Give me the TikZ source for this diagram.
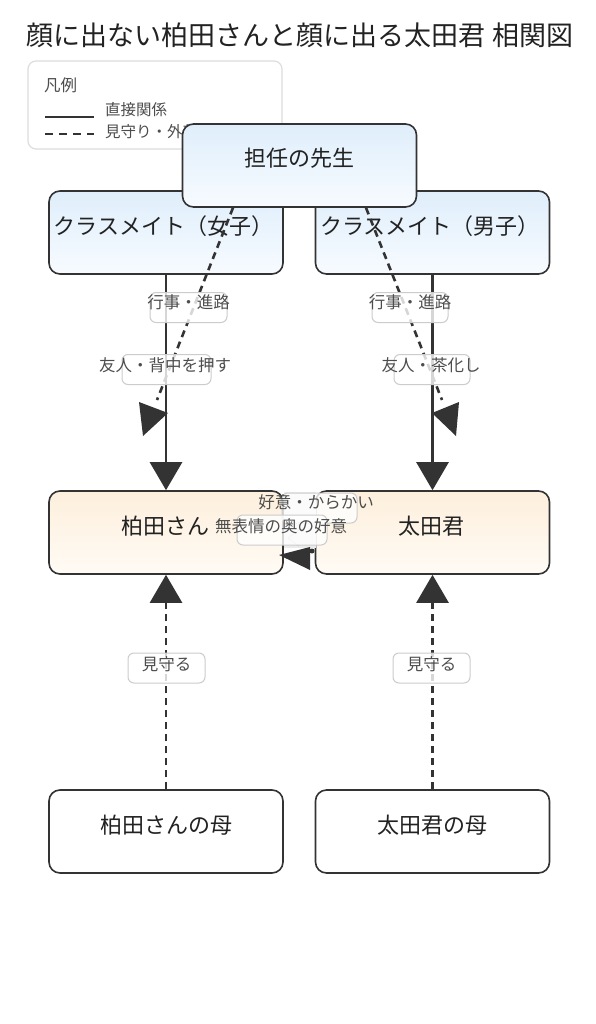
\documentclass[tikz,border=0pt]{standalone}
\usepackage{fontspec}
\setmainfont{Noto Sans CJK JP}
\usetikzlibrary{arrows.meta,calc}
\definecolor{boxc}{HTML}{333333}
\definecolor{linec}{HTML}{333333}
\definecolor{bluetop}{HTML}{DFEEFB}
\definecolor{bluebot}{HTML}{F7FBFF}
\definecolor{orgtop}{HTML}{FDEFDC}
\definecolor{orgbot}{HTML}{FFFBF5}
\definecolor{lblc}{HTML}{CCCCCC}
\definecolor{lbltxt}{HTML}{4D4D4D}
\definecolor{textc}{HTML}{222222}
\definecolor{legc}{HTML}{DDDDDD}
\tikzset{
  box/.style={draw=boxc, line width=1.6pt, rounded corners=11pt, minimum width=234pt, minimum height=83pt, inner sep=0pt},
  bluebox/.style={box, top color=bluetop, bottom color=bluebot},
  orgbox/.style={box, top color=orgtop, bottom color=orgbot},
  whitebox/.style={box, fill=white},
  ntext/.style={font=\fontsize{22}{26}\selectfont, text=textc, inner sep=0pt},
  lblbox/.style={draw=lblc, line width=1pt, fill=white, fill opacity=0.8, rounded corners=6pt, minimum height=30pt, inner sep=0pt},
  lbltext/.style={font=\fontsize{16.5}{19}\selectfont, text=lbltxt, inner sep=0pt},
  solidline/.style={draw=linec, line width=2.6pt},
  dashline/.style={draw=linec, line width=2.6pt, dash pattern=on 7pt off 5pt},
  tipA/.style={-{Triangle[length=28pt,width=32pt]}},
  legtext/.style={font=\fontsize{15.5}{18}\selectfont, text=lbltxt, inner sep=0pt, anchor=west},
}
\begin{document}
\begin{tikzpicture}[x=1pt,y=-1pt]
\fill[white] (0,0) rectangle (596,1024);
\useasboundingbox (0,0) rectangle (596,1024);

% title
\node[font=\fontsize{27}{31}\selectfont, text=textc, inner sep=0pt] (title) at (300,35) {顔に出ない柏田さんと顔に出る太田君 相関図};

% legend
\node[draw=legc, line width=1.2pt, fill=white, rounded corners=8pt, minimum width=254pt, minimum height=88pt, inner sep=0pt] (legend) at (155,105) {};
\node[font=\fontsize{16.5}{19}\selectfont, text=lbltxt, inner sep=0pt, anchor=west] (legtitle) at (44,85) {凡例};
\coordinate (ls1) at (45,117); \coordinate (le1) at (94,117);
\draw[linec, line width=2.7pt] (ls1) -- (le1);
\node[legtext] (leg1) at (105,110) {直接関係};
\coordinate (ls2) at (45,134); \coordinate (le2) at (94,134);
\draw[linec, line width=2.7pt, dash pattern=on 8pt off 6pt] (ls2) -- (le2);
\node[legtext] (leg2) at (105,132) {見守り・外部};

% classmates
\node[bluebox] (g) at (166,232.5) {};
\node[ntext] (gt) at ($(g.center)+(-2.5,-6)$) {クラスメイト（女子）};
\node[bluebox] (b) at (432.5,232.5) {};
\node[ntext] (bt) at ($(b.center)+(-2.5,-6)$) {クラスメイト（男子）};

% teacher
\node[bluebox] (t) at (299.5,165.5) {};
\node[ntext] (tt) at ($(t.center)+(0,-7)$) {担任の先生};

% main pair
\node[orgbox] (k) at (166,532.5) {};
\node[ntext] (kt) at ($(k.center)+(-1,-6)$) {柏田さん};
\node[orgbox] (o) at (432.5,532.5) {};
\node[ntext] (ot) at ($(o.center)+(-1,-6)$) {太田君};

% mothers
\node[whitebox] (km) at (166,831.5) {};
\node[ntext] (kmt) at ($(km.center)+(0,-6)$) {柏田さんの母};
\node[whitebox] (om) at (432.5,831.5) {};
\node[ntext] (omt) at ($(om.center)+(0,-6)$) {太田君の母};

% solid edges
\draw[solidline, tipA] (g.south) -- (k.north);
\draw[solidline, tipA] (b.south) -- (o.north);

% dashed diagonal edges from teacher
\coordinate (tl) at ($(t.south)+(-66.5,0)$);
\coordinate (tr) at ($(t.south)+(66.5,0)$);
\coordinate (dl) at (157,400);
\coordinate (dr) at (442,400);
\draw[dashline] (tl) -- (dl);
\draw[dashline] (tr) -- (dr);
\fill[linec] (139,402) -- (168,413) -- (143,436) -- cycle;
\fill[linec] (459,402) -- (432,413) -- (456,436) -- cycle;

% gap between Kashiwada and Ota
\fill[black!8] (284,492) rectangle (316,548);
\draw[black!18, line width=1pt] (299,530) -- (288,538) -- (299,546);
\fill[linec] (279,555) -- (310,547) -- (310,570) -- cycle;
\fill[linec] (312,551) circle (2.5pt);

% mother edges
\draw[dashline, tipA] (km.north) -- (k.south);
\draw[dashline, tipA] (om.north) -- (o.south);

% labels
\node[lblbox, minimum width=77pt] (l1) at (188.5,307.5) {};
\node[lbltext] (l1t) at ($(l1.center)+(0,-5.5)$) {行事・進路};
\node[lblbox, minimum width=76pt] (l2) at (410,307.5) {};
\node[lbltext] (l2t) at ($(l2.center)+(0,-5.5)$) {行事・進路};
\node[lblbox, minimum width=89pt] (l3) at (166.5,369.5) {};
\node[lbltext] (l3t) at ($(l3.center)+(-1.5,-4.5)$) {友人・背中を押す};
\node[lblbox, minimum width=76pt] (l4) at (432,369.5) {};
\node[lbltext] (l4t) at ($(l4.center)+(-1,-4.5)$) {友人・茶化し};
\node[lblbox, minimum width=75pt] (l5) at (319.5,508) {};
\node[lbltext] (l5t) at ($(l5.center)+(-3.5,-6)$) {好意・からかい};
\node[lblbox, minimum width=90pt] (l6) at (282,530) {};
\node[lbltext] (l6t) at ($(l6.center)+(-1,-4)$) {無表情の奥の好意};
\node[lblbox, minimum width=77pt] (l7) at (166.5,668) {};
\node[lbltext] (l7t) at ($(l7.center)+(0,-4)$) {見守る};
\node[lblbox, minimum width=77pt] (l8) at (431.5,668) {};
\node[lbltext] (l8t) at ($(l8.center)+(0,-4)$) {見守る};
\end{tikzpicture}
\end{document}
